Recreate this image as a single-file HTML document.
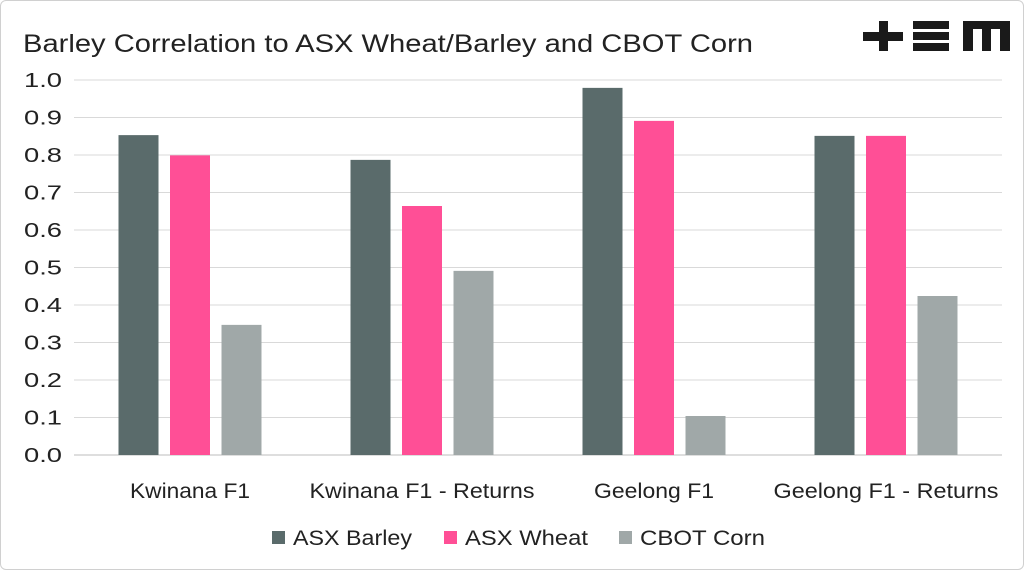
<!DOCTYPE html>
<html><head><meta charset="utf-8"><style>
body{margin:0;background:#fff;font-family:"Liberation Sans",sans-serif;}
#wrap{position:relative;width:1022px;height:568px;border:1px solid #d0d0d0;border-radius:6px;overflow:hidden;background:#fff}
</style></head><body>
<div id="wrap">
<svg id="chart" width="1022" height="568">
<text x="22" y="51" font-size="25" fill="#222" textLength="730" lengthAdjust="spacingAndGlyphs">Barley Correlation to ASX Wheat/Barley and CBOT Corn</text>
<g fill="#1a1a1a">
<rect x="862" y="31" width="40" height="9"/><rect x="878" y="20" width="9" height="30"/>
<rect x="912" y="20" width="36" height="8"/><rect x="912" y="31" width="36" height="8"/><rect x="912" y="42" width="36" height="8"/>
<rect x="962" y="20" width="47" height="8"/><rect x="962" y="20" width="10" height="30"/><rect x="981" y="20" width="9" height="30"/><rect x="999" y="20" width="10" height="30"/>
</g>
<g id="grid"></g><g id="bars"></g><g id="labels"></g><g id="legend"></g>
</svg>
</div>
<script>
const categories=["Kwinana F1","Kwinana F1 - Returns","Geelong F1","Geelong F1 - Returns"];
const seriesNames=["ASX Barley","ASX Wheat","CBOT Corn"];
const asxBarley=[0.853,0.787,0.979,0.851];
const asxWheat=[0.799,0.664,0.891,0.851];
const cbotCorn=[0.347,0.491,0.104,0.424];
const yTicks=["0.0","0.1","0.2","0.3","0.4","0.5","0.6","0.7","0.8","0.9","1.0"];
const colors=["#5a6b6b","#ff4f96","#a0a8a8"];
const NS="http://www.w3.org/2000/svg";
const x0=73,x1=1001,y0=454,y1=79;
const yS=v=>y0-(v/1.0)*(y0-y1);
const bw=(x1-x0)/categories.length;
function mk(t,a,p){const e=document.createElementNS(NS,t);for(const k in a)e.setAttribute(k,a[k]);p.appendChild(e);return e;}
const grid=document.getElementById('grid'),bars=document.getElementById('bars'),labels=document.getElementById('labels'),leg=document.getElementById('legend');
yTicks.forEach(t=>{const v=parseFloat(t),y=yS(v);
const l=mk('line',{x1:x0,x2:x1,y1:y,y2:y,stroke:v===0?'#bdbdbd':'#d9d9d9','stroke-width':1},grid);


const tx=mk('text',{x:61,y:y+7,'text-anchor':'end','font-size':20,fill:'#222',textLength:38,lengthAdjust:'spacingAndGlyphs'},labels);tx.textContent=t;


});
const series=[asxBarley,asxWheat,cbotCorn];
const barW=40,step=51.5;
categories.forEach((c,i)=>{const cx=x0+bw*(i+0.5);
series.forEach((s,j)=>{const x=cx+(j-1)*step-barW/2,y=yS(s[i]);
const r=mk('rect',{x:x,y:y,width:barW,height:y0-y,fill:colors[j]},bars);


});
const t=mk('text',{x:cx,y:497,'text-anchor':'middle','font-size':21,fill:'#222',textLength:c.length<12?120:225,lengthAdjust:'spacingAndGlyphs'},labels);t.textContent=c;


});
const legX=[271,443,618];
const legW=[119,123,125];
seriesNames.forEach((n,j)=>{
const g=mk('g',{},leg);


mk('rect',{x:legX[j],y:530,width:13,height:13,fill:colors[j]},g);
const t=mk('text',{x:legX[j]+21,y:544,'font-size':21,fill:'#222',textLength:legW[j],lengthAdjust:'spacingAndGlyphs'},g);t.textContent=n;
});
</script>
</body></html>
